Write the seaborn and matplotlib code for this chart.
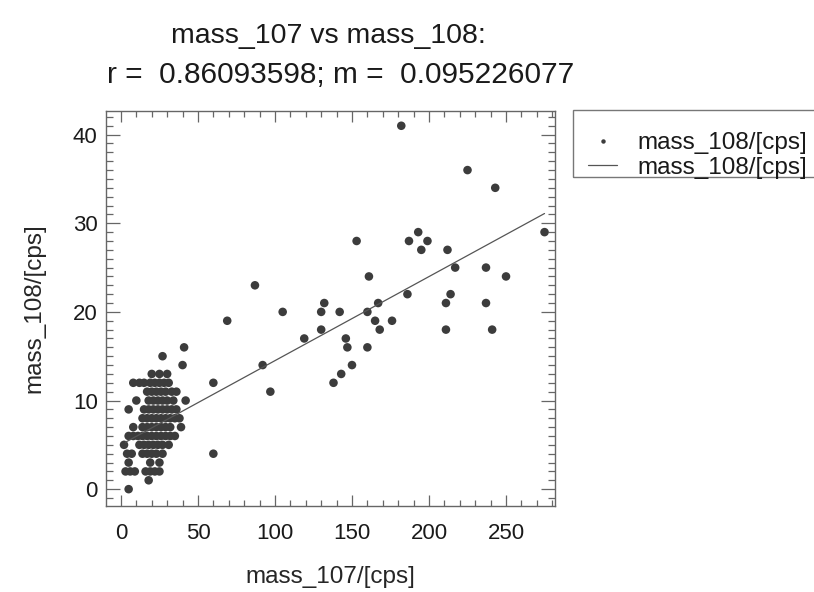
import matplotlib
matplotlib.use("Agg")
import matplotlib.pyplot as plt
import seaborn as sns
import pandas as pd
from matplotlib.ticker import MultipleLocator
from matplotlib.lines import Line2D
from matplotlib.patches import Rectangle

# ---- data ----
mass_107 = [
    5,
    18,
    3, 6, 9, 16, 19, 22, 25,
    5, 19, 25,
    4, 7, 14, 17, 20, 23, 27, 60,
    2, 12, 15, 18, 21, 24, 27, 31,
    5, 8, 11, 14, 17, 20, 23, 26, 29, 32, 35,
    8, 14, 17, 20, 23, 26, 29, 32, 39,
    14, 17, 20, 23, 26, 29, 32, 35, 38,
    5, 15, 18, 21, 24, 27, 30, 33, 36,
    10, 18, 21, 24, 27, 30, 34, 42,
    17, 20, 23, 26, 29, 33, 36, 97,
    8, 12, 15, 19, 22, 25, 28, 31, 60, 138,
    20, 25, 30, 143,
    40, 92, 150,
    27,
    41, 147, 160,
    119, 146,
    130, 168, 211, 241,
    69, 165, 176,
    105, 130, 142, 160,
    132, 167, 211, 237,
    186, 214,
    87,
    161, 250,
    217, 237,
    195, 212,
    153, 187, 199,
    193, 275,
    243,
    225,
    182,
]
mass_108 = [
    0,
    1,
    2, 2, 2, 2, 2, 2, 2,
    3, 3, 3,
    4, 4, 4, 4, 4, 4, 4, 4,
    5, 5, 5, 5, 5, 5, 5, 5,
    6, 6, 6, 6, 6, 6, 6, 6, 6, 6, 6,
    7, 7, 7, 7, 7, 7, 7, 7, 7,
    8, 8, 8, 8, 8, 8, 8, 8, 8,
    9, 9, 9, 9, 9, 9, 9, 9, 9,
    10, 10, 10, 10, 10, 10, 10, 10,
    11, 11, 11, 11, 11, 11, 11, 11,
    12, 12, 12, 12, 12, 12, 12, 12, 12, 12,
    13, 13, 13, 13,
    14, 14, 14,
    15,
    16, 16, 16,
    17, 17,
    18, 18, 18, 18,
    19, 19, 19,
    20, 20, 20, 20,
    21, 21, 21, 21,
    22, 22,
    23,
    24, 24,
    25, 25,
    27, 27,
    28, 28, 28,
    29, 29,
    34,
    36,
    41,
]
fit_x = [3, 275]
fit_y = [5.3, 31.1]

series_label = "mass_108/[cps]"
title_line1 = "mass_107 vs mass_108:"
title_line2 = "r =  0.86093598; m =  0.095226077"
xlabel = "mass_107/[cps]"
ylabel = "mass_108/[cps]"
xticks = [0, 50, 100, 150, 200, 250]
yticks = [0, 10, 20, 30, 40]

df = pd.DataFrame({"x": mass_107, "y": mass_108})
fit_df = pd.DataFrame({"x": fit_x, "y": fit_y})

sns.set_style("ticks")
plt.rcParams["font.family"] = ["Liberation Sans", "DejaVu Sans"]
plt.rcParams["text.color"] = "#1a1a1a"

W, H = 814, 592
fig = plt.figure(figsize=(W / 100, H / 100), dpi=100)
ax = fig.add_axes([106 / W, 1 - 506 / H, (555 - 106) / W, (506 - 110.7) / H])

dot_color = "#3c3c3c"
line_color = "#555555"
sns.scatterplot(data=df, x="x", y="y", ax=ax, color=dot_color, s=38,
                edgecolor="none", marker="o", legend=False)
sns.lineplot(data=fit_df, x="x", y="y", ax=ax, color=line_color, linewidth=0.9,
             legend=False)

ax.set_xlim(-9.7, 281.8)
ax.set_ylim(-1.9, 42.7)
ax.set_xticks(xticks)
ax.set_yticks(yticks)
ax.xaxis.set_minor_locator(MultipleLocator(10))
ax.yaxis.set_minor_locator(MultipleLocator(1))

spine_c = "#666666"
for sp in ax.spines.values():
    sp.set_visible(True)
    sp.set_color(spine_c)
    sp.set_linewidth(1.0)

ax.tick_params(axis="both", which="both", direction="in", top=True, right=True,
               color=spine_c, width=0.9, labelsize=16, labelcolor="#1a1a1a")
ax.tick_params(axis="x", which="major", length=8, pad=12)
ax.tick_params(axis="x", which="minor", length=4)
ax.tick_params(axis="y", which="major", length=10, pad=6)
ax.tick_params(axis="y", which="minor", length=5)

ax.set_xlabel(xlabel, fontsize=17.5, labelpad=16)
ax.set_ylabel(ylabel, fontsize=17.5, labelpad=20)

fig.text(328 / W, 1 - 36 / H, title_line1, ha="center", va="center", fontsize=20.5)
fig.text(341 / W, 1 - 75 / H, title_line2, ha="center", va="center", fontsize=21.5)

# legend frame (runs off the right edge of the figure, as in the reference)
fig.patches.append(Rectangle((572.7 / W, 1 - 177 / H), 300 / W, 67 / H,
                             transform=fig.transFigure, fill=False,
                             edgecolor="#777777", linewidth=1.0))
handles = [
    Line2D([], [], linestyle="none", marker="o", markersize=3.2,
           color=dot_color, markeredgewidth=0),
    Line2D([], [], color=line_color, linewidth=0.9),
]
leg = fig.legend(handles, [series_label, series_label], loc="upper left",
                 bbox_to_anchor=(588 / W, 1 - 132 / H),
                 fontsize=17.5, frameon=False, borderpad=0.0,
                 labelspacing=0.12, handlelength=1.2, handletextpad=0.85,
                 borderaxespad=0.0)

fig.savefig("out.png", dpi=100)
